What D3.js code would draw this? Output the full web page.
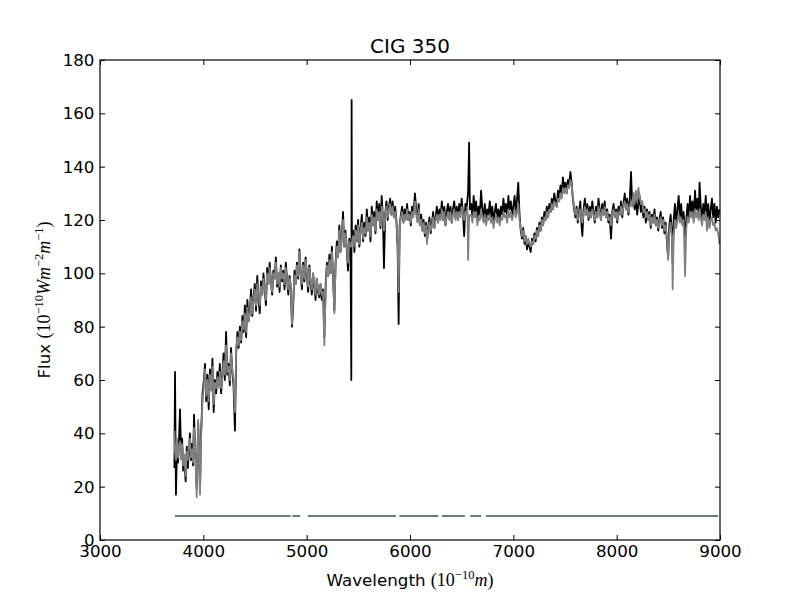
<!DOCTYPE html>
<html>
<head>
<meta charset="utf-8">
<script src="https://cdn.jsdelivr.net/npm/d3@7"></script>
<style>
  body { margin: 0; background: #fff; }
  text { font-family: "DejaVu Sans", sans-serif; }
  .math { font-family: "Liberation Serif", serif; }
</style>
</head>
<body>
<script>
/*** data ***/
// wavelength grid in Angstrom
const wave = [
  3720, 3726, 3735, 3745, 3755, 3765, 3774, 3785, 3795, 3805, 3815, 3829, 3840, 3850, 3860, 3870, 3880, 3890, 3900, 3910, 3920, 3936, 3950, 3960, 3968, 3976, 3984, 3992,
  4005, 4016, 4028, 4040, 4052, 4064, 4076, 4088, 4100, 4112, 4124, 4136, 4148, 4160, 4172, 4184, 4196, 4208, 4220, 4232, 4244, 4256, 4268, 4280, 4292, 4306,
  4318, 4330, 4342, 4354, 4366, 4378, 4390, 4402, 4414, 4426, 4438, 4450, 4462, 4474, 4486, 4498, 4510, 4522, 4534, 4546, 4558, 4570, 4582, 4594, 4606, 4618, 4630, 4642, 4654, 4666, 4678, 4690, 4702, 4714, 4726, 4738, 4750, 4762, 4774, 4786, 4798, 4810, 4822, 4834, 4846, 4858, 4870, 4882, 4894,
  4906, 4918, 4930, 4942, 4954, 4966, 4978, 4990, 5002, 5014, 5026, 5038, 5050, 5062, 5074, 5086, 5098, 5110, 5122, 5134, 5146, 5158, 5171, 5184, 5196, 5208, 5220, 5232, 5244, 5256, 5268, 5280, 5292, 5304, 5316, 5328, 5340, 5352, 5364, 5376, 5388, 5400, 5412, 5424,
  5432, 5435, 5438, 5450, 5462, 5474, 5486, 5498, 5510, 5522, 5534, 5546, 5558, 5570, 5582, 5594, 5606, 5618, 5630, 5642, 5654, 5666, 5678, 5690, 5702, 5714, 5726, 5738, 5748, 5760, 5772, 5784, 5796, 5808, 5820, 5832, 5844, 5856, 5868, 5880, 5890, 5900,
  5912, 5924, 5936, 5948, 5960, 5972, 5984, 5996, 6008, 6020, 6032, 6048, 6060, 6072, 6084, 6096, 6108, 6120, 6132, 6144, 6156, 6164, 6176, 6188, 6200, 6212, 6224, 6236, 6248, 6260, 6272, 6284, 6296, 6308, 6320, 6332, 6344, 6356, 6368, 6380, 6392, 6404, 6416, 6428, 6440, 6452, 6464, 6476, 6488, 6500, 6512, 6524, 6536, 6548, 6556,
  6562, 6572, 6580,
  6592, 6604, 6616, 6628, 6640, 6652, 6664, 6676, 6688, 6700, 6712, 6724, 6736, 6748, 6760, 6772, 6784, 6796, 6808, 6820, 6832, 6844, 6856, 6868, 6880, 6892, 6904, 6916, 6928, 6940, 6952, 6964, 6976, 6988, 7000, 7012, 7024, 7036, 7048,
  7060, 7072, 7084, 7096, 7108, 7120, 7132, 7144, 7156, 7168, 7180, 7192, 7204, 7216, 7228, 7240, 7252, 7264, 7276, 7288, 7300, 7312, 7324, 7336, 7348, 7360, 7372, 7384, 7396, 7408, 7420, 7432, 7444, 7456, 7468, 7480, 7492, 7504, 7516, 7528, 7540, 7552, 7564, 7576, 7588,
  7600, 7612, 7624, 7636, 7648, 7660, 7668, 7680, 7692, 7704, 7716, 7728, 7740, 7752, 7764, 7776, 7788, 7800, 7812, 7824, 7836, 7848, 7860, 7872, 7884, 7896, 7908, 7920, 7932, 7945, 7958, 7970, 7982, 7994, 8006, 8018, 8030, 8042, 8054, 8066, 8078, 8090, 8102, 8114, 8126, 8139, 8150, 8162, 8174, 8186, 8198, 8210, 8222, 8234, 8246, 8258, 8270, 8282, 8294, 8306, 8318, 8330, 8342, 8354, 8366, 8378, 8390, 8402, 8414,
  8426, 8438, 8450, 8462, 8474, 8486, 8498, 8510, 8522, 8534, 8542, 8552, 8564, 8576, 8588, 8600, 8612, 8624, 8636, 8648, 8662, 8674, 8686, 8698, 8710, 8722, 8734, 8746, 8758, 8770, 8782, 8794, 8802, 8814, 8826, 8838, 8850, 8862, 8874, 8886, 8898, 8910, 8922, 8934, 8946, 8958, 8970, 8982, 8994
];

// observed flux (black)
const observed = [
  27, 63, 17, 34, 29, 38, 49, 33, 38, 26, 30, 22, 35, 27, 33, 40, 30, 36, 28, 47, 34, 19, 44, 30, 18, 38, 46, 55,
  60, 66, 52, 62, 49, 64, 57, 68, 48, 60, 55, 63, 58, 66, 55, 62, 70, 60, 78, 62, 66, 58, 72, 63, 58, 41,
  70, 78, 72, 80, 74, 84, 78, 88, 76, 90, 82, 86, 94, 84, 91, 96, 86, 99, 90, 85, 97, 92, 100, 94, 88, 102, 96, 104, 97, 92, 101, 98, 106, 95, 100, 93, 103, 97, 101, 94, 104, 98, 92, 99, 95, 80, 88, 101, 96,
  104, 98, 109, 100, 94, 104, 97, 106, 99, 93, 103, 96, 92, 100, 95, 90, 98, 93, 91, 96, 90, 94, 76, 96, 104, 99, 107, 100, 110, 98, 86, 104, 112, 106, 118, 108, 114, 123, 110, 116, 109, 101, 113, 110,
  60, 165, 112, 116, 108, 118, 112, 120, 110, 117, 122, 112, 119, 114, 124, 116, 121, 112, 125, 118, 123, 115, 127, 120, 126, 117, 129, 121, 102, 122, 127, 120, 125, 128, 122, 127, 121, 125, 120, 110, 81, 118,
  122, 125, 119, 124, 121, 126, 120, 123, 118, 125, 122, 130, 124, 120, 126, 118, 122, 116, 120, 114, 119, 112, 117, 121, 115, 119, 123, 117, 121, 125, 119, 124, 121, 127, 120, 125, 118, 123, 126, 121, 125, 119, 124, 127, 121, 125, 120, 126, 122, 128, 123, 114, 126, 124, 128,
  130, 149, 124,
  126, 121, 129, 123, 127, 120, 125, 122, 131, 124, 121, 126, 120, 124, 122, 127, 121, 125, 119, 123, 126, 121, 124, 120, 125, 122, 128, 123, 126, 121, 129, 124, 127, 122, 125, 129, 123, 128, 134,
  122, 116, 113, 117, 111, 114, 109, 112, 110, 108, 113, 111, 115, 112, 117, 114, 119, 116, 121, 118, 123, 120, 125, 121, 126, 123, 128, 124, 130, 127, 125, 131, 128, 133, 129, 136, 131, 134, 130, 135, 133, 138, 134, 128, 124,
  121, 125, 119, 123, 127, 118, 114, 124, 128, 122, 126, 120, 125, 121, 127, 123, 119, 125, 121, 128, 124, 120, 126, 122, 127, 121, 124, 119, 122, 113, 123, 126, 121, 124, 119, 125, 122, 127, 121, 126, 130, 124, 128, 122, 127, 138, 126, 130, 124, 128, 122, 126, 129, 123, 127, 121, 125, 119, 124, 120, 123, 117, 122, 119, 124, 118, 121, 116, 120,
  123, 117, 121, 115, 119, 112, 106, 118, 122, 116, 104, 120, 126, 118, 124, 129, 121, 126, 119, 123, 114, 120, 126, 121, 129, 123, 127, 120, 131, 124, 128, 121, 134, 125, 119, 126, 122, 129, 120, 126, 118, 124, 128, 121, 126, 119, 125, 121, 124
];

// fitted model flux (grey)
const model = [
  41, 33, 30, 38, 31, 35, 37, 30, 36, 28, 32, 24, 33, 30, 35, 38, 31, 34, 29, 42, 35, 16, 45, 31, 17, 36, 44, 52,
  58, 64, 54, 60, 52, 62, 56, 65, 51, 59, 57, 61, 57, 63, 57, 61, 67, 62, 73, 63, 65, 60, 70, 64, 60, 48,
  72, 76, 73, 78, 75, 82, 79, 85, 78, 87, 82, 85, 91, 85, 90, 94, 88, 96, 91, 88, 95, 92, 98, 94, 90, 100, 96, 102, 97, 93, 100, 98, 104, 96, 100, 95, 102, 98, 100, 96, 102, 98, 94, 98, 96, 81, 90, 99, 96,
  103, 99, 108, 100, 96, 103, 98, 105, 100, 95, 102, 97, 94, 100, 96, 92, 98, 94, 92, 96, 92, 93, 73, 94, 103, 99, 105, 100, 108, 99, 85, 103, 110, 106, 116, 108, 113, 120, 110, 115, 110, 104, 112, 110,
  110, 111, 112, 114, 110, 116, 112, 118, 111, 116, 119, 113, 117, 115, 121, 116, 119, 114, 122, 118, 121, 116, 124, 120, 123, 118, 125, 121, 116, 121, 125, 121, 124, 126, 122, 125, 121, 123, 120, 112, 93, 118,
  121, 123, 119, 122, 120, 124, 120, 122, 119, 123, 121, 127, 122, 119, 124, 118, 120, 116, 119, 115, 118, 111, 116, 119, 116, 118, 121, 117, 120, 122, 119, 122, 120, 124, 120, 123, 118, 121, 123, 120, 123, 119, 122, 124, 120, 123, 120, 123, 121, 125, 122, 120, 123, 122, 125,
  105, 121, 122,
  122, 119, 123, 121, 123, 118, 121, 120, 124, 121, 119, 122, 118, 121, 120, 122, 119, 121, 117, 120, 122, 119, 121, 118, 121, 120, 123, 121, 122, 119, 124, 121, 123, 120, 122, 124, 121, 123, 126,
  120, 117, 114, 116, 112, 114, 111, 113, 111, 110, 112, 111, 114, 113, 116, 114, 118, 116, 120, 118, 121, 120, 123, 121, 124, 123, 126, 124, 127, 126, 125, 128, 127, 130, 128, 132, 130, 132, 130, 133, 132, 135, 133, 129, 125,
  122, 124, 120, 122, 124, 120, 119, 122, 125, 122, 124, 121, 123, 121, 124, 122, 120, 123, 121, 125, 123, 120, 124, 122, 125, 121, 123, 120, 121, 118, 122, 124, 121, 123, 120, 123, 122, 125, 122, 125, 127, 124, 126, 123, 125, 127, 125, 130, 126, 131, 127, 132, 129, 126, 127, 123, 124, 121, 123, 120, 122, 118, 121, 119, 122, 118, 120, 117, 119,
  121, 118, 120, 116, 118, 113, 105, 115, 119, 114, 94, 114, 120, 117, 120, 122, 119, 121, 118, 120, 99, 117, 121, 119, 123, 121, 123, 119, 124, 121, 123, 120, 124, 121, 118, 122, 120, 123, 116, 121, 117, 120, 121, 118, 119, 116, 117, 115, 111
];

// fitted wavelength ranges (the bar near the bottom)
const maskStart = [3726, 4861, 5012, 5898, 6309, 6583, 6735];
const maskEnd   = [4844, 4938, 5863, 6274, 6531, 6689, 8981];
const maskLevel = 9;

const xTicks = [3000, 4000, 5000, 6000, 7000, 8000, 9000];
const yTicks = [0, 20, 40, 60, 80, 100, 120, 140, 160, 180];

/*** global variable/s ***/
const width = 800, height = 600;
const margin = { top: 60, right: 80, bottom: 60, left: 100 };
const innerW = width - margin.left - margin.right;
const innerH = height - margin.top - margin.bottom;

/*** our draw function ***/
function drawSpectrum() {
  const x = d3.scaleLinear().domain([3000, 9000]).range([0, innerW]);
  const y = d3.scaleLinear().domain([0, 180]).range([innerH, 0]);

  const svg = d3.select('body')
    .append("svg")
    .attr("width", width)
    .attr("height", height)
    .attr("viewBox", [0, 0, width, height]);

  const g = svg.append("g")
    .attr("transform", `translate(${margin.left},${margin.top})`);

  const rows = wave.map((w, i) => ({ w: w, obs: observed[i], fit: model[i] }));

  const lineObs = d3.line().x(d => x(d.w)).y(d => y(d.obs));
  const lineFit = d3.line().x(d => x(d.w)).y(d => y(d.fit));

  g.append("path")
    .datum(rows)
    .attr("d", lineObs)
    .attr("fill", "none")
    .attr("stroke", "#000")
    .attr("stroke-width", 1.8)
    .attr("stroke-linejoin", "round");

  g.append("path")
    .datum(rows)
    .attr("d", lineFit)
    .attr("fill", "none")
    .attr("stroke", "#808080")
    .attr("stroke-width", 1.8)
    .attr("stroke-linejoin", "round");

  // mask segments
  const maskLine = d3.line().x(d => x(d[0])).y(d => y(d[1]));
  g.append("g")
    .selectAll("path")
    .data(maskStart.map((s, i) => [[s, maskLevel], [maskEnd[i], maskLevel]]))
    .join("path")
    .attr("d", maskLine)
    .attr("fill", "none")
    .attr("stroke", "#6d7b83")
    .attr("stroke-width", 2);

  // axes, ticks pointing inward on all four sides
  const fontSize = 16.7;

  const bottom = g.append("g")
    .attr("transform", `translate(0,${innerH})`)
    .call(d3.axisBottom(x).tickValues(xTicks).tickFormat(d3.format("d"))
      .tickSizeInner(-5).tickSizeOuter(0).tickPadding(5));

  const left = g.append("g")
    .call(d3.axisLeft(y).tickValues(yTicks).tickFormat(d3.format("d"))
      .tickSizeInner(-5).tickSizeOuter(0).tickPadding(5.5));

  const top = g.append("g")
    .call(d3.axisTop(x).tickValues(xTicks).tickFormat("")
      .tickSizeInner(-5).tickSizeOuter(0));

  const right = g.append("g")
    .attr("transform", `translate(${innerW},0)`)
    .call(d3.axisRight(y).tickValues(yTicks).tickFormat("")
      .tickSizeInner(-5).tickSizeOuter(0));

  [bottom, left, top, right].forEach(a => {
    a.attr("font-size", fontSize).attr("font-family", "DejaVu Sans");
    a.select(".domain").remove();
  });

  g.append("rect")
    .attr("x", 0)
    .attr("y", 0)
    .attr("width", innerW)
    .attr("height", innerH)
    .attr("fill", "none")
    .attr("stroke", "#000")
    .attr("stroke-width", 1.2);

  // title
  svg.append("text")
    .attr("x", margin.left + innerW / 2)
    .attr("y", 53)
    .attr("text-anchor", "middle")
    .attr("font-size", 20)
    .text("CIG 350");

  // x label
  const xl = svg.append("text")
    .attr("x", margin.left + innerW / 2)
    .attr("y", 586)
    .attr("text-anchor", "middle")
    .attr("font-size", fontSize);
  xl.append("tspan").text("Wavelength ");
  xl.append("tspan").attr("class", "math").attr("font-size", 18).text("(10");
  xl.append("tspan").attr("class", "math").attr("font-size", 12.5).attr("dy", -7).text("\u221210");
  xl.append("tspan").attr("class", "math").attr("font-size", 18).attr("font-style", "italic").attr("dy", 7).text("m");
  xl.append("tspan").attr("class", "math").attr("font-size", 18).text(")");

  // y label
  const yl = svg.append("text")
    .attr("transform", `translate(50,${margin.top + innerH / 2}) rotate(-90)`)
    .attr("text-anchor", "middle")
    .attr("font-size", fontSize);
  yl.append("tspan").text("Flux ");
  yl.append("tspan").attr("class", "math").attr("font-size", 18).text("(10");
  yl.append("tspan").attr("class", "math").attr("font-size", 12.5).attr("dy", -7).text("\u221210");
  yl.append("tspan").attr("class", "math").attr("font-size", 18).attr("font-style", "italic").attr("dy", 7).text("Wm");
  yl.append("tspan").attr("class", "math").attr("font-size", 12.5).attr("dy", -7).text("\u22122");
  yl.append("tspan").attr("class", "math").attr("font-size", 18).attr("font-style", "italic").attr("dy", 7).text("m");
  yl.append("tspan").attr("class", "math").attr("font-size", 12.5).attr("dy", -7).text("\u22121");
  yl.append("tspan").attr("class", "math").attr("font-size", 18).attr("dy", 7).text(")");
}

drawSpectrum();
</script>
</body>
</html>
